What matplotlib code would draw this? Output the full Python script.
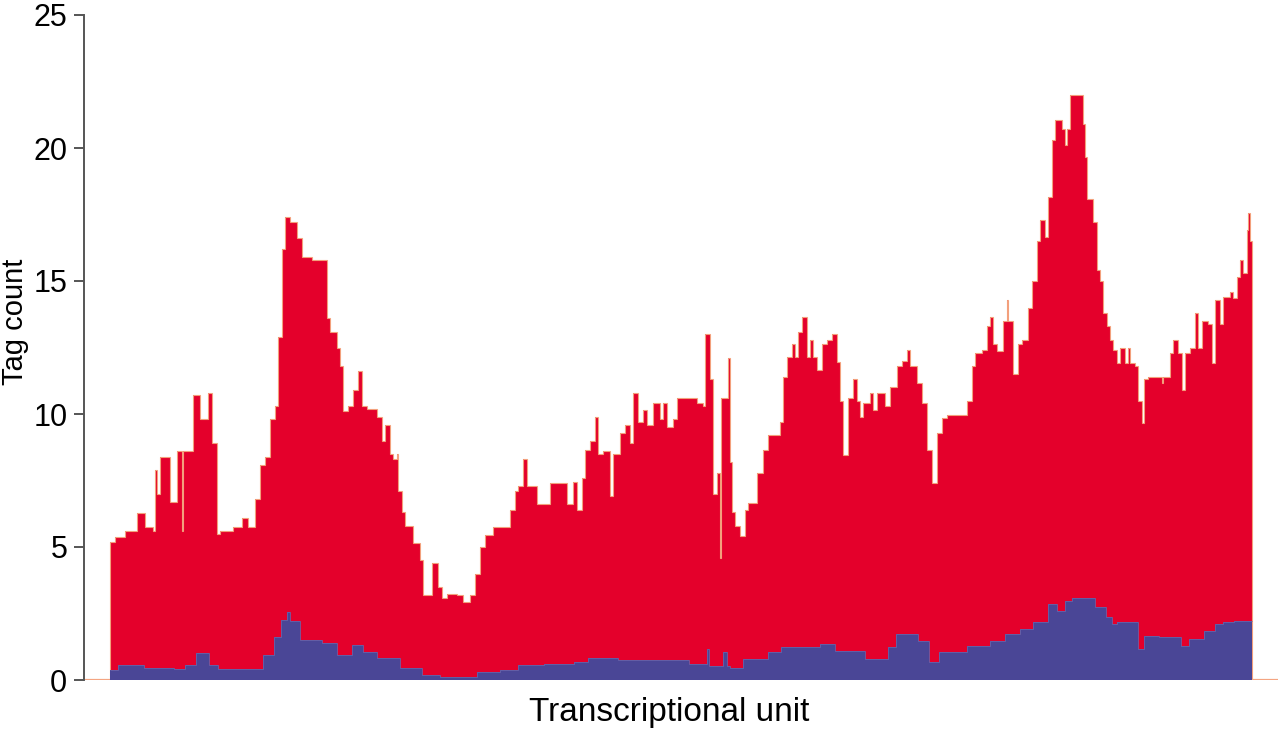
import matplotlib
matplotlib.use("Agg")
import matplotlib.pyplot as plt
import numpy as np

# ---- data: position along the transcriptional unit (bins) and tag counts ----
red_bin_start = [0, 5, 15, 27, 35, 43, 45, 47, 50, 60,
                 67, 72, 73, 83, 90, 98, 102, 107, 110, 123,
                 132, 138, 145, 150, 155, 160, 165, 168, 172, 175,
                 180, 187, 192, 202, 217, 220, 227, 230, 233, 238,
                 243, 248, 252, 257, 267, 272, 275, 280, 283, 287,
                 288, 292, 295, 303, 310, 313, 322, 328, 332, 337,
                 347, 353, 360, 365, 370, 375, 383, 400, 405, 408,
                 413, 417, 427, 440, 457, 463, 467, 472, 475, 480,
                 485, 488, 493, 500, 503, 510, 515, 520, 523, 528,
                 533, 537, 543, 550, 553, 557, 563, 567, 587, 593,
                 595, 600, 603, 607, 610, 611, 618, 620, 622, 625,
                 630, 635, 638, 647, 653, 658, 670, 673, 677, 682,
                 685, 688, 692, 697, 700, 703, 707, 712, 717, 722,
                 727, 730, 733, 738, 743, 747, 750, 753, 760, 763,
                 767, 775, 780, 787, 792, 797, 800, 807, 812, 817,
                 822, 827, 832, 837, 857, 862, 865, 872, 877, 880,
                 883, 887, 893, 897, 898, 903, 908, 912, 918, 922,
                 927, 930, 935, 938, 942, 945, 952, 955, 957, 960,
                 973, 975, 977, 983, 987, 990, 993, 997, 1000, 1003,
                 1007, 1010, 1015, 1018, 1020, 1025, 1028, 1032, 1034, 1038,
                 1052, 1053, 1060, 1063, 1068, 1072, 1075, 1080, 1085, 1088,
                 1092, 1098, 1102, 1105, 1110, 1113, 1120, 1123, 1127, 1130,
                 1133, 1137, 1138, 1140]
red_counts = [5.2, 5.37, 5.6, 6.27, 5.75, 5.6, 7.9, 7.0, 8.4, 6.7,
              8.6, 5.6, 8.6, 10.7, 9.8, 10.8, 8.9, 5.5, 5.6, 5.75,
              6.1, 5.75, 6.8, 8.1, 8.4, 9.8, 10.3, 12.9, 16.2, 17.4,
              17.2, 16.6, 15.9, 15.8, 13.6, 13.1, 12.5, 11.8, 10.1, 10.3,
              10.9, 11.6, 10.3, 10.2, 9.9, 9.0, 9.6, 8.5, 8.3, 8.5,
              7.1, 6.3, 5.8, 5.15, 4.5, 3.2, 4.4, 3.5, 3.1, 3.25,
              3.2, 2.95, 3.2, 4.0, 5.0, 5.45, 5.75, 6.4, 7.1, 7.3,
              8.3, 7.3, 6.6, 7.4, 6.6, 7.45, 6.4, 7.6, 8.65, 9.0,
              9.9, 8.5, 8.6, 6.9, 8.5, 9.3, 9.6, 8.9, 10.8, 9.7,
              10.15, 9.6, 10.4, 9.8, 10.4, 9.5, 9.8, 10.6, 10.4, 10.3,
              13.0, 11.3, 7.0, 7.8, 4.6, 10.6, 12.1, 8.2, 6.3, 5.8,
              5.4, 6.4, 6.65, 7.8, 8.65, 9.2, 9.7, 11.4, 12.15, 12.65,
              12.15, 13.1, 13.65, 12.15, 12.8, 12.15, 11.65, 12.65, 12.8, 13.0,
              11.95, 10.5, 8.45, 10.6, 11.3, 10.5, 9.9, 10.4, 10.8, 10.15,
              10.8, 10.3, 11.0, 11.8, 12.0, 12.4, 11.8, 11.15, 10.4, 8.65,
              7.4, 9.3, 9.85, 9.95, 10.5, 11.8, 12.3, 12.4, 13.3, 13.65,
              12.65, 12.35, 13.5, 14.3, 13.5, 11.5, 12.65, 12.8, 14.0, 15.0,
              16.5, 17.3, 16.65, 18.15, 20.3, 21.05, 20.7, 20.1, 20.7, 22.0,
              20.9, 19.65, 18.1, 17.2, 15.4, 15.0, 13.8, 13.3, 12.8, 12.4,
              11.9, 12.5, 11.9, 12.5, 11.9, 11.8, 10.5, 9.65, 11.3, 11.4,
              11.15, 11.4, 12.3, 12.8, 12.3, 10.9, 12.3, 12.5, 13.8, 12.5,
              13.5, 13.4, 11.9, 14.3, 13.4, 14.4, 14.6, 14.35, 15.15, 15.8,
              15.3, 16.9, 17.55, 16.5]

blue_bin_start = [0, 8, 34, 64, 75, 86, 99, 108, 153, 164,
                  171, 177, 180, 190, 212, 227, 242, 253, 267, 290,
                  312, 330, 367, 390, 408, 434, 464, 478, 508, 560,
                  579, 597, 599, 613, 617, 620, 633, 658, 671, 710,
                  725, 755, 778, 786, 808, 819, 829, 857, 880, 895,
                  910, 923, 938, 947, 955, 962, 985, 996, 1002, 1007,
                  1028, 1034, 1049, 1071, 1079, 1094, 1105, 1113, 1124]
blue_counts = [0.38, 0.56, 0.45, 0.4, 0.56, 1.0, 0.56, 0.42, 0.94, 1.63,
               2.25, 2.57, 2.2, 1.5, 1.4, 0.94, 1.3, 1.06, 0.82, 0.45,
               0.19, 0.11, 0.3, 0.38, 0.56, 0.6, 0.68, 0.82, 0.75, 0.76,
               0.6, 1.17, 0.54, 1.05, 0.54, 0.45, 0.79, 1.04, 1.23, 1.35,
               1.1, 0.79, 1.23, 1.73, 1.48, 0.66, 1.04, 1.29, 1.48, 1.73,
               1.92, 2.17, 2.86, 2.6, 2.98, 3.1, 2.73, 2.36, 2.1, 2.17,
               1.17, 1.67, 1.6, 1.29, 1.54, 1.85, 2.1, 2.17, 2.23]

unit_end = 1142
y_ticks = [0, 5, 10, 15, 20, 25]

RED = "#E4002B"
RED_EDGE = "#F3A07C"
BLUE = "#4A4696"
BASE = "#F4A582"
AXIS = "#555555"

fig = plt.figure(figsize=(12.8, 7.35), dpi=100)
ax = fig.add_axes([84 / 1280, 55 / 735, (1278 - 84) / 1280, 665 / 735])

red_edges = red_bin_start + [unit_end]
blue_edges = blue_bin_start + [unit_end]

ax.axhline(0, color=BASE, lw=1.6, zorder=1)
ax.stairs(red_counts, red_edges, fill=True, color=RED, zorder=2)
ax.stairs(red_counts, red_edges, fill=False, color=RED_EDGE, lw=0.8,
          baseline=0, zorder=3)
ax.stairs(blue_counts, blue_edges, fill=True, color=BLUE, zorder=4)
ax.stairs(blue_counts, blue_edges, fill=False, color="#6A62A8", lw=0.6,
          baseline=None, zorder=5)

ax.set_xlim(-26, 1168)
ax.set_ylim(0, 25)

for s in ["top", "right", "bottom"]:
    ax.spines[s].set_visible(False)
ax.spines["left"].set_color(AXIS)
ax.spines["left"].set_linewidth(1.4)
ax.spines["left"].set_bounds(0, 25)

ax.set_xticks([])
ax.set_yticks(y_ticks)
ax.set_yticklabels([str(t) for t in y_ticks],
                   fontfamily=["Liberation Sans Narrow", "Liberation Sans", "DejaVu Sans"],
                   fontsize=22)
ax.tick_params(axis="y", direction="out", length=7, width=1.4, color=AXIS,
               pad=5, labelcolor="black")

fig.text(15 / 1280, 1 - 322 / 735, "Tag count", rotation=90, ha="center",
         va="center", fontsize=21, family=["Liberation Sans", "DejaVu Sans"])
fig.text(669 / 1280, 1 - 712 / 735, "Transcriptional unit", ha="center",
         va="center", fontsize=24, family=["Liberation Sans", "DejaVu Sans"])

fig.savefig("out.png", dpi=100)
